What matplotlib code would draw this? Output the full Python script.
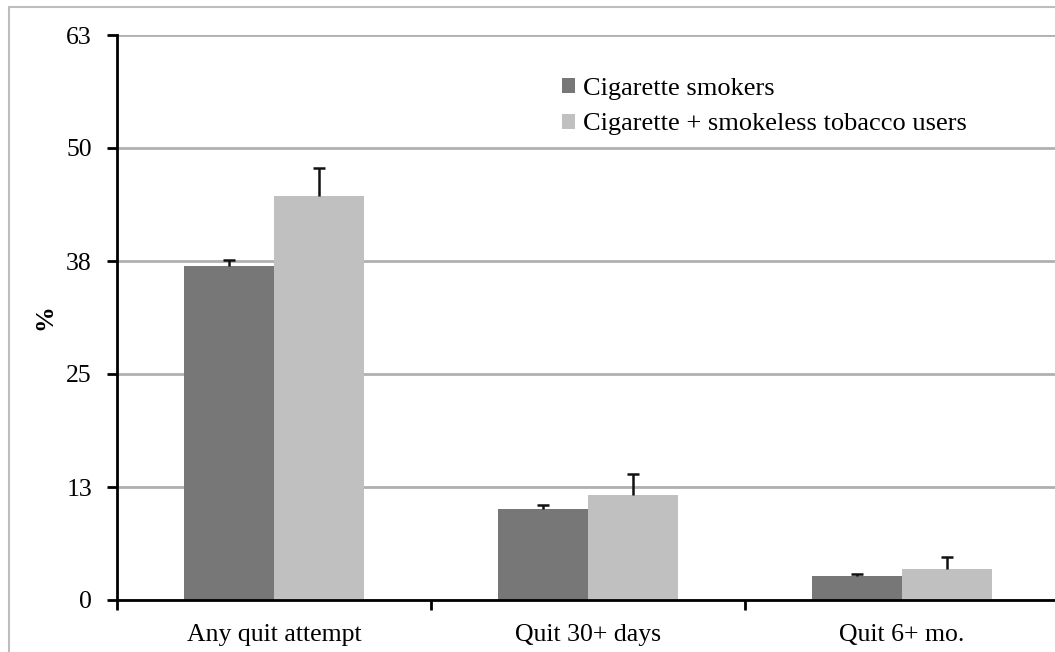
import matplotlib
matplotlib.use("Agg")
import matplotlib.pyplot as plt
import numpy as np
from matplotlib.patches import Rectangle, Patch

# Data
categories = ["Any quit attempt", "Quit 30+ days", "Quit 6+ mo."]
series_names = ["Cigarette smokers", "Cigarette + smokeless tobacco users"]
cig_only = [37.2, 10.2, 2.7]
cig_only_err = [0.7, 0.4, 0.2]
cig_smokeless = [45.0, 11.7, 3.5]
cig_smokeless_err = [3.2, 2.3, 1.3]
y_ticks = [0, 12.6, 25.2, 37.8, 50.4, 63]
y_tick_labels = ["0", "13", "25", "38", "50", "63"]

plt.rcParams["font.family"] = ["Liberation Serif", "DejaVu Serif"]

W, H = 1055, 652
fig = plt.figure(figsize=(W / 100, H / 100), dpi=100)

# light gray outer frame
fig.patches.append(Rectangle((9 / W, -0.1), 1.2, 1 - 7 / H + 0.1,
                             transform=fig.transFigure, fill=False,
                             edgecolor="#bdbdbd", linewidth=1.5))

left, right, bottom, top = 117, 1059, 600, 35
ax = fig.add_axes([left / W, 1 - bottom / H, (right - left) / W, (bottom - top) / H])

x = np.arange(len(categories))
bw = 0.286
dark = "#777777"
light = "#c0c0c0"


def bars_with_upper_err(xpos, vals, errs, color):
    ax.bar(xpos, vals, width=bw, color=color, zorder=3)
    eb = ax.errorbar(xpos, vals, yerr=[np.zeros(len(vals)), errs], fmt="none",
                     ecolor="#111111", elinewidth=1.8, capsize=4.5, capthick=1.8,
                     zorder=4)
    # keep only the upper cap
    eb[1][0].set_visible(False)


bars_with_upper_err(x - bw / 2, cig_only, cig_only_err, dark)
bars_with_upper_err(x + bw / 2, cig_smokeless, cig_smokeless_err, light)

ax.set_xlim(-0.5, len(categories) - 0.5)
ax.set_ylim(0, 63)

ax.set_yticks(y_ticks)
ax.set_yticklabels(y_tick_labels)
ax.yaxis.grid(True, color="#b0b0b0", linewidth=2, zorder=0)

ax.set_xticks(x)
ax.set_xticklabels(categories)
ax.set_xticks(np.arange(-0.5, len(categories)), minor=True)
ax.tick_params(axis="x", which="major", length=0, pad=17, labelsize=18.5)
ax.tick_params(axis="x", which="minor", length=7, width=2, direction="out")
ax.tick_params(axis="y", length=7, width=2, pad=11, labelsize=18.5)

for s in ["top", "right"]:
    ax.spines[s].set_visible(False)
for s in ["left", "bottom"]:
    ax.spines[s].set_linewidth(2)
    ax.spines[s].set_zorder(5)

ax.set_ylabel("%", fontsize=18.5, fontweight="bold")
ax.yaxis.set_label_coords(-0.064, 0.5)

handles = [Patch(facecolor=dark, edgecolor="none"), Patch(facecolor=light, edgecolor="none")]
leg = ax.legend(handles, series_names, loc="upper left",
                bbox_to_anchor=(549 / W, 1 - 65 / H), bbox_transform=fig.transFigure,
                frameon=False, fontsize=19, handlelength=0.5, handleheight=0.5,
                handletextpad=0.3, labelspacing=0.5, borderpad=0)

fig.savefig("out.png", dpi=100)
